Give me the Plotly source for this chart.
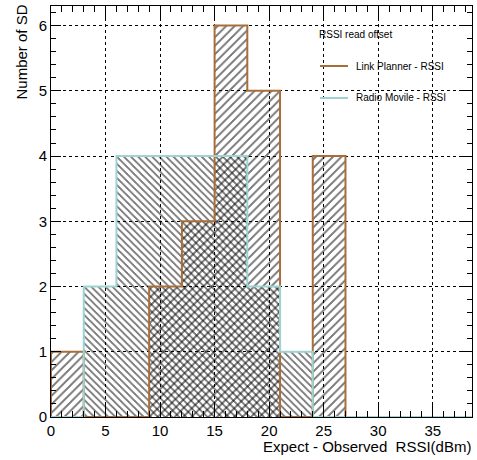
import plotly.graph_objects as go

# ---- data ----
bin_edges = [0, 3, 6, 9, 12, 15, 18, 21, 24, 27, 30, 33, 36, 39]
link_planner = [1, 0, 0, 2, 3, 6, 5, 0, 4, 0, 0, 0, 0]
radio_movile = [0, 2, 4, 4, 4, 4, 2, 1, 0, 0, 0, 0, 0]
series_names = ["Link Planner - RSSI", "Radio Movile - RSSI"]
legend_title = "RSSI read offset"
x_title = "Expect - Observed\u00a0\u00a0RSSI(dBm)"
y_title = "Number of SD"

BROWN = "#a86e3a"
CYAN = "#9fd3d3"
FONT = "Liberation Sans, Arial, Helvetica, sans-serif"

centers = [(a + b) / 2 for a, b in zip(bin_edges[:-1], bin_edges[1:])]
widths = [b - a for a, b in zip(bin_edges[:-1], bin_edges[1:])]

W, H = 477, 460
ML, MR, MT, MB = 51, 5, 6, 43
PW, PH = W - ML - MR, H - MT - MB


def px_x(p):
    return (p - ML) / PW


def px_y(p):
    return (H - MB - p) / PH


fig = go.Figure()

# hatched bars
for vals, shape, size, sol in [(link_planner, "/", 6, 0.33), (radio_movile, "\\", 5, 0.36)]:
    fig.add_trace(go.Bar(
        x=centers, y=vals, width=widths,
        marker=dict(color="rgba(0,0,0,0)", line=dict(width=0),
                    pattern=dict(shape=shape, fgcolor="black", bgcolor="rgba(0,0,0,0)",
                                 size=size, solidity=sol)),
        showlegend=False, hoverinfo="skip"))


def step(vals):
    xs = [bin_edges[0]] + bin_edges[:-1] + [bin_edges[-1]]
    ys = [0] + list(vals) + [vals[-1]]
    return xs, ys


for vals, col in [(link_planner, BROWN), (radio_movile, CYAN)]:
    xs, ys = step(vals)
    fig.add_trace(go.Scatter(x=xs, y=ys, mode="lines", line=dict(color=col, width=2, shape="hv"),
                             showlegend=False, hoverinfo="skip", cliponaxis=False))

fig.update_layout(
    width=W, height=H, margin=dict(l=ML, r=MR, t=MT, b=MB),
    paper_bgcolor="white", plot_bgcolor="white",
    barmode="overlay", bargap=0,
    font=dict(family=FONT, size=15, color="black"),
    showlegend=False,
)

axis_common = dict(showline=True, linecolor="black", linewidth=1, mirror="ticks",
                   ticks="inside", tickcolor="black", showgrid=True, gridcolor="black",
                   gridwidth=1, griddash="3px,3px", zeroline=False, automargin=False,
                   tickfont=dict(family=FONT, size=15, color="black"))
fig.update_xaxes(range=[0, 38.6], dtick=5, tick0=0, ticklen=12,
                 minor=dict(dtick=1, ticks="inside", ticklen=6, tickcolor="black", showgrid=False),
                 **axis_common)
fig.update_yaxes(range=[0, 6.3], dtick=1, tick0=0, ticklen=10,
                 minor=dict(dtick=0.2, ticks="inside", ticklen=5, tickcolor="black", showgrid=False),
                 **axis_common)

# legend box
fig.add_shape(type="rect", xref="paper", yref="paper", x0=px_x(313), x1=1, y0=px_y(115), y1=1,
              fillcolor="white", line=dict(width=0), layer="between")
fig.add_annotation(xref="paper", yref="paper", x=px_x(317), y=px_y(34), xanchor="left",
                   yanchor="middle", text=legend_title, showarrow=False,
                   font=dict(family=FONT, size=10, color="black"))
for i, (name, col) in enumerate(zip(series_names, [BROWN, CYAN])):
    yy = px_y(66 + 32 * i)
    fig.add_shape(type="line", xref="paper", yref="paper", x0=px_x(320), x1=px_x(348), y0=yy, y1=yy,
                  line=dict(color=col, width=2))
    fig.add_annotation(xref="paper", yref="paper", x=px_x(354), y=yy, xanchor="left",
                       yanchor="middle", text=name, showarrow=False,
                       font=dict(family=FONT, size=10, color="black"))

# axis titles
fig.add_annotation(xref="paper", yref="paper", x=px_x(473), y=px_y(446), xanchor="right",
                   yanchor="middle", text=x_title, showarrow=False,
                   font=dict(family=FONT, size=15, color="black"))
fig.add_annotation(xref="paper", yref="paper", x=px_x(21), y=px_y(3), xanchor="center",
                   yanchor="top", text=y_title, textangle=-90, showarrow=False,
                   font=dict(family=FONT, size=15, color="black"))

post = """
document.body.style.margin='0';
function crisp(){document.querySelectorAll('pattern path').forEach(function(p){p.setAttribute('shape-rendering','crispEdges');});}
crisp(); setTimeout(crisp, 50); setTimeout(crisp, 300);
"""
fig.write_html("out.html", config={"displayModeBar": False}, post_script=post)
